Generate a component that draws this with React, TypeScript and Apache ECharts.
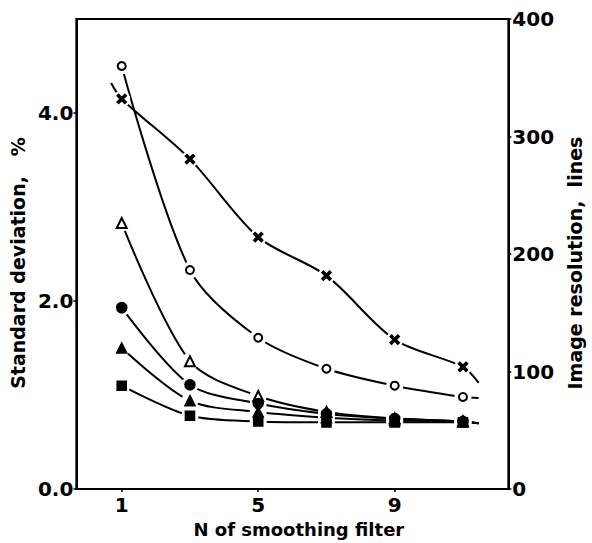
import React, { useEffect, useRef } from "react";
import * as echarts from "echarts";

// N of smoothing filter
const nValues = [1, 3, 5, 7, 9, 11];
const xTickValues = [1, 5, 9];
const leftTickValues = [0, 2, 4];

// Standard deviation, %
const crossValues = [4.15, 3.51, 2.68, 2.27, 1.59, 1.3];
const openCircleValues = [4.5, 2.33, 1.61, 1.28, 1.1, 0.98];
const openTriangleValues = [2.83, 1.36, 0.99, 0.82, 0.75, 0.72];
const filledCircleValues = [1.93, 1.11, 0.91, 0.8, 0.75, 0.72];
const filledTriangleValues = [1.5, 0.94, 0.82, 0.76, 0.73, 0.72];
const squareValues = [1.1, 0.78, 0.72, 0.71, 0.71, 0.71];

// Curve extensions beyond the first / last marker
const crossLeftTail = [0.69, 4.32];
const rightTailX = 11.46;
const crossRightTail = 1.13;
const openCircleRightTail = 0.97;
const lowRightTail = 0.7;

const CROSS =
  "path://M0,1.6 L1.6,0 L5,3.4 L8.4,0 L10,1.6 L6.6,5 L10,8.4 L8.4,10 L5,6.6 L1.6,10 L0,8.4 L3.4,5 Z";

const FONT = "DejaVu Sans";

type Curve = {
  name: string;
  values: number[];
  symbol: string;
  size: number | number[];
  leftTail?: number[];
  rightTail: number;
};

const curves: Curve[] = [
  { name: "cross", values: crossValues, symbol: CROSS, size: [9, 9], leftTail: crossLeftTail, rightTail: crossRightTail },
  { name: "openCircle", values: openCircleValues, symbol: "emptyCircle", size: 8, rightTail: openCircleRightTail },
  { name: "openTriangle", values: openTriangleValues, symbol: "emptyTriangle", size: 10, rightTail: lowRightTail },
  { name: "filledCircle", values: filledCircleValues, symbol: "circle", size: 10, rightTail: lowRightTail },
  { name: "filledTriangle", values: filledTriangleValues, symbol: "triangle", size: 10, rightTail: lowRightTail },
  { name: "square", values: squareValues, symbol: "rect", size: 9, rightTail: lowRightTail },
];

export default function App() {
  const ref = useRef<HTMLDivElement>(null);

  useEffect(() => {
    if (!ref.current) return;
    const chart = echarts.init(ref.current, null, { renderer: "svg" });

    const series: any[] = [];
    curves.forEach((c) => {
      const pts = nValues.map((n, i) => [n, c.values[i]]);
      const lineData = [
        ...(c.leftTail ? [c.leftTail] : []),
        ...pts,
        [rightTailX, c.rightTail],
      ];
      series.push({
        name: c.name + "-line",
        type: "line",
        data: lineData,
        smooth: 0.3,
        showSymbol: false,
        lineStyle: { color: "#000", width: 2 },
        z: 2,
        silent: true,
      });
      series.push({
        name: c.name + "-halo",
        type: "scatter",
        data: pts,
        symbol: "circle",
        symbolSize: 17,
        itemStyle: { color: "#fff", opacity: 1 },
        z: 3,
        silent: true,
      });
      series.push({
        name: c.name,
        type: "scatter",
        data: pts,
        symbol: c.symbol,
        symbolSize: c.size,
        itemStyle: { color: "#000", borderColor: "#000", borderWidth: 1.6, opacity: 1 },
        z: 4,
        silent: true,
      });
    });

    const labelStyle = {
      color: "#000",
      fontFamily: FONT,
      fontWeight: "bold" as const,
      fontSize: 20,
    };

    chart.setOption({
      animation: false,
      backgroundColor: "#fff",
      grid: {
        left: 73,
        right: 74,
        top: 19,
        bottom: 53,
        show: true,
        borderColor: "#000",
        borderWidth: 2,
        backgroundColor: "transparent",
      },
      xAxis: {
        type: "value",
        min: -0.33,
        max: 12.33,
        name: "N of smoothing filter",
        nameLocation: "middle",
        nameGap: 30,
        nameTextStyle: {
          color: "#000",
          fontFamily: FONT,
          fontWeight: "bold",
          fontSize: 18,
          padding: [0, 0, 0, 13],
        },
        axisLine: { onZero: false, lineStyle: { color: "#000", width: 2 } },
        axisTick: { show: true, length: 3, customValues: xTickValues, lineStyle: { color: "#000", width: 1.5 } },
        axisLabel: { ...labelStyle, margin: 6, customValues: xTickValues },
        splitLine: { show: false },
      },
      yAxis: [
        {
          type: "value",
          min: 0,
          max: 5,
          position: "left",
          name: "Standard deviation,   %",
          nameLocation: "middle",
          nameRotate: 90,
          nameGap: 33,
          nameTextStyle: {
            color: "#000",
            fontFamily: FONT,
            fontWeight: "bold",
            fontSize: 19,
            padding: [0, 18, 0, 0],
          },
          axisLine: { show: true, onZero: false, lineStyle: { color: "#000", width: 2 } },
          axisTick: { show: true, length: 3, customValues: leftTickValues, lineStyle: { color: "#000", width: 1.5 } },
          axisLabel: {
            ...labelStyle,
            margin: 3,
            customValues: leftTickValues,
            formatter: (v: number) => v.toFixed(1),
          },
          splitLine: { show: false },
        },
        {
          type: "value",
          min: 0,
          max: 400,
          interval: 100,
          position: "right",
          name: "Image resolution,  lines",
          nameLocation: "middle",
          nameRotate: 90,
          nameGap: 46,
          nameTextStyle: {
            color: "#000",
            fontFamily: FONT,
            fontWeight: "bold",
            fontSize: 19,
            padding: [0, 18, 0, 0],
          },
          axisLine: { show: true, onZero: false, lineStyle: { color: "#000", width: 2 } },
          axisTick: { show: true, length: 3, lineStyle: { color: "#000", width: 1.5 } },
          axisLabel: { ...labelStyle, margin: 4 },
          splitLine: { show: false },
        },
      ],
      series,
    });

    return () => chart.dispose();
  }, []);

  return (
    <div
      ref={ref}
      style={{ position: "fixed", left: 0, top: 0, width: 592, height: 543, background: "#fff" }}
    />
  );
}
